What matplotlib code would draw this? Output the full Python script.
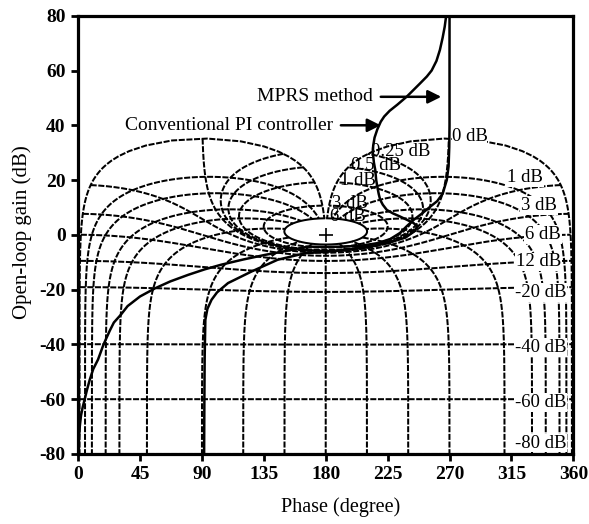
import numpy as np
import matplotlib.pyplot as plt

plt.rcParams['font.family'] = ['Liberation Serif', 'DejaVu Serif']
plt.rcParams['axes.unicode_minus'] = False

# closed-loop gain contours (dB) and closed-loop phase contours (deg)
gain_db = [6, 3, 1, 0.5, 0.25, 0, -1, -3, -6, -12, -20, -40, -60, -80]
phase_cl = [1, 5, 10, 20, 30, 50, 90, 120, 150, 180, 210, 240, 270, 310, 330, 340, 350, 355, 359]

# labels of the negative gain contours on the right side
neg_labels = ['1 dB', '3 dB', '6 dB', '12 dB', '-20 dB', '-40 dB', '-60 dB', '-80 dB']
neg_label_y = [21, 10.6, 0, -9.9, -21, -41.2, -61.3, -76]
neg_label_x = [338, 348, 351, 351, 355, 355, 355, 355]

# open-loop curves
mprs_phase = [270, 270, 270, 269.8, 269.3, 268, 265, 261, 256, 250, 244, 239, 234, 227, 218,
              205, 192, 180, 167, 152, 136, 120, 104, 92, 80, 67, 56, 45, 36, 31, 26, 23,
              18.5, 14.5, 11, 8.4, 6.5, 4.8, 3.3, 2.1, 1.2, 0.6, 0.2]
mprs_gain = [80, 60, 40, 32, 25, 20, 15, 12.3, 10.3, 7.8, 5.5, 3.2, 0.7, -1.5, -3,
             -4, -4.3, -4.4, -4.3, -5.8, -7.3, -9, -10.9, -12.6, -14.6, -17, -19.5, -22.5,
             -26, -29.2, -32, -35, -40, -45.5, -49, -53, -56.5, -60, -63, -66, -70, -74, -80]

pi_phase = [267.5, 267.3, 266.5, 265, 263, 260.5, 257, 253.5, 248, 239, 232, 226.5, 222.5,
            220, 217.5, 215.5, 214.5, 214.3, 215, 216, 216.7, 217.5, 218.5, 219.6, 221.5,
            224.4, 229, 234, 239, 243.6, 246.5, 245, 238, 225, 210, 195, 180, 165, 145,
            126, 109, 101, 97, 94, 92.5, 92, 91.8, 91.6]
pi_gain = [80, 79, 76, 72, 67.5, 63.5, 60, 57.8, 55, 50.5, 47.5, 45.3, 43.2,
           41.3, 38.5, 35.5, 32.5, 29.9, 26.5, 23.7, 20, 17.6, 15, 12.8, 11,
           9.1, 7.8, 6.7, 5.5, 4.4, 3.2, 1.5, -1, -3, -4.5, -5.5, -6.2, -6.7, -9.1,
           -13.4, -17.6, -21, -23.7, -27, -31, -45, -60, -80]

fig = plt.figure(figsize=(5.89, 5.24), dpi=100)
ax = fig.add_axes([0.1326, 0.1336, 0.8408, 0.8364])

dash = (0, (3, 0.8))
lw_grid = 1.45

# gain contours
th = np.radians(np.linspace(1, 359, 2000))
ends = {}
for g in gain_db:
    m = 10 ** (g / 20)
    t = m * np.exp(1j * th)
    l = t / (1 - t)
    ph = np.mod(np.degrees(np.angle(l)), 360)
    gl = 20 * np.log10(np.abs(l))
    if g == 6:
        ax.plot(ph, gl, color='k', lw=lw_grid)
    else:
        ax.plot(ph, gl, color='k', lw=lw_grid, linestyle=dash)
    ends[g] = (ph[-1], gl[-1])

# phase contours
r = np.logspace(-5, np.log10(2), 1500)
for p in phase_cl:
    t = r * np.exp(-1j * np.radians(p))
    l = t / (1 - t)
    ph = np.mod(np.degrees(np.angle(l)), 360)
    gl = 20 * np.log10(np.abs(l))
    ax.plot(ph, gl, color='k', lw=lw_grid, linestyle=dash)

# open-loop curves
ax.plot(mprs_phase, mprs_gain, color='k', lw=1.8)
ax.plot(pi_phase, pi_gain, color='k', lw=1.8)

ax.plot([180], [0], marker='+', color='k', ms=10, mew=1.2)

# labels of positive gain contours at contour ends
for g in [6, 3, 1, 0.5, 0.25, 0]:
    x, y = ends[g]
    ax.text(x + 2, y + 0.7, '%g dB' % g, fontsize=13.5, ha='left', va='center',
            bbox=dict(boxstyle='square,pad=0', fc='white', ec='none') if g == 0 else None)

for s, x, y in zip(neg_labels, neg_label_x, neg_label_y):
    ax.text(x, y, s, fontsize=13.5, ha='right', va='center',
            bbox=dict(boxstyle='square,pad=0.05', fc='white', ec='none'))

# annotations
ax.text(130, 50.4, 'MPRS method', fontsize=14, ha='left', va='center')
ax.annotate('', xy=(266, 50.4), xytext=(218, 50.4),
            arrowprops=dict(arrowstyle='-|>', color='k', lw=1.8, mutation_scale=20))
ax.text(34, 40, 'Conventional PI controller', fontsize=14, ha='left', va='center')
ax.annotate('', xy=(222, 40), xytext=(189, 40),
            arrowprops=dict(arrowstyle='-|>', color='k', lw=1.8, mutation_scale=20))

ax.set_xlim(0, 360)
ax.set_ylim(-80, 80)
ax.set_xticks(np.arange(0, 361, 45))
ax.set_yticks(np.arange(-80, 81, 20))
ax.tick_params(direction='out', length=5, width=2, labelsize=14, pad=4)
for lab in ax.get_xticklabels() + ax.get_yticklabels():
    lab.set_fontweight('bold')
for sp in ax.spines.values():
    sp.set_linewidth(2.3)

fig.text(341 / 589, 1 - 507 / 524, 'Phase (degree)', fontsize=14.5, ha='center', va='center')
fig.text(22 / 589, 1 - 232 / 524, 'Open-loop gain (dB)', fontsize=15, ha='center',
         va='center', rotation=90)

fig.savefig('out.png', dpi=100)
